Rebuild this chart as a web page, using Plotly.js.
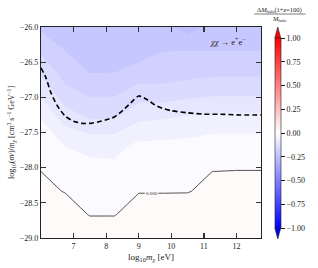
<!DOCTYPE html>
<html>
<head>
<meta charset="utf-8">
<script src="https://cdn.plot.ly/plotly-3.0.1.min.js"></script>
<style>html,body{margin:0;padding:0;background:#fff;}#chart{width:318px;height:268px;}</style>
</head>
<body>
<div id="chart"></div>
<script>
// log10 m_chi [eV] grid
const logMass = [6, 6.75, 7.5, 8.25, 9, 9.75, 10.5, 11.25, 12, 12.75];
// log10 (sigma v)/m_chi grid
const logSigmaV = [-29, -28.6667, -28.3333, -28, -27.6667, -27.3333, -27, -26.6667, -26.3333, -26];
// Delta M_halo / M_halo, one row per logSigmaV value
const deltaM = [
  [0.024, 0.02, 0.012, 0.012, 0.02, 0.02, 0.02, 0.024, 0.028, 0.028],
  [0.012, 0.008, -0.0008, -0.0008, 0.008, 0.008, 0.01, 0.014, 0.016, 0.016],
  [0.004, -0.0008, -0.02, -0.018, -0.0008, -0.0008, -0.0008, 0.004, 0.006, 0.006],
  [-0.0008, -0.02, -0.032, -0.0328, -0.02, -0.02, -0.02, -0.0008, -0.0008, -0.0008],
  [-0.02, -0.042, -0.05, -0.052, -0.034, -0.032, -0.03, -0.024, -0.024, -0.024],
  [-0.038, -0.092, -0.118, -0.116, -0.082, -0.076, -0.068, -0.06, -0.06, -0.06],
  [-0.0808, -0.14, -0.1592, -0.1592, -0.132, -0.132, -0.124, -0.118, -0.118, -0.118],
  [-0.124, -0.176, -0.1992, -0.1992, -0.18, -0.18, -0.172, -0.166, -0.166, -0.166],
  [-0.168, -0.2008, -0.22, -0.216, -0.22, -0.2008, -0.2008, -0.2008, -0.2008, -0.2008],
  [-0.208, -0.224, -0.236, -0.232, -0.236, -0.228, -0.256, -0.23, -0.224, -0.224]
];
// dashed reference curve
const dashX = [6.0, 6.15, 6.3, 6.5, 6.75, 7.0, 7.25, 7.5, 7.75, 8.0, 8.25, 8.5, 8.75, 9.0, 9.25, 9.5, 9.75, 10.0, 10.5, 11.0, 11.5, 12.0, 12.75];
const dashY = [-26.58, -26.72, -26.93, -27.12, -27.27, -27.34, -27.37, -27.37, -27.35, -27.32, -27.28, -27.19, -27.08, -26.98, -27.03, -27.11, -27.16, -27.19, -27.22, -27.24, -27.24, -27.25, -27.25];
const xTicks = [7, 8, 9, 10, 11, 12];
const yTicks = [-29, -28.5, -28, -27.5, -27, -26.5, -26];
const cbTicks = [-1, -0.75, -0.5, -0.25, 0, 0.25, 0.5, 0.75, 1];

const FONT = 'Liberation Serif, DejaVu Serif, serif';
const bwr = [[0, 'rgb(0,0,255)'], [0.5, 'rgb(255,255,255)'], [1, 'rgb(255,0,0)']];
// band colors (bwr sampled at band centres, levels every 0.04)
const bandColors = ['rgb(189,189,255)', 'rgb(199,199,255)', 'rgb(209,209,255)', 'rgb(219,219,255)',
  'rgb(230,230,255)', 'rgb(240,240,255)', 'rgb(250,250,255)', 'rgb(255,250,250)'];
const bandScale = bandColors.map((c, i) => [i / (bandColors.length - 1), c]);

const traces = [
  {
    type: 'contour', x: logMass, y: logSigmaV, z: deltaM,
    autocontour: false,
    contours: {start: -0.24, end: 0.0001, size: 0.04, coloring: 'fill', showlines: false},
    colorscale: bandScale, showscale: false,
    line: {width: 0, smoothing: 0}, hoverinfo: 'skip'
  },
  {
    type: 'contour', x: logMass, y: logSigmaV, z: deltaM,
    autocontour: false,
    contours: {start: 0, end: 0, size: 1, coloring: 'none', showlabels: true,
      labelfont: {family: FONT, size: 5, color: '#333'}, labelformat: '.3f'},
    line: {color: '#222', width: 0.8, smoothing: 0}, showscale: false, hoverinfo: 'skip'
  },
  {
    type: 'scatter', mode: 'lines', x: dashX, y: dashY,
    line: {color: 'black', width: 1.6, dash: '5px,3px', shape: 'spline', smoothing: 0.6},
    hoverinfo: 'skip', showlegend: false
  },
  {
    type: 'scatter', mode: 'markers', x: [6.5], y: [-26.5], hoverinfo: 'skip', showlegend: false,
    marker: {size: 1, opacity: 0, color: [0], colorscale: bwr, cmin: -1, cmax: 1, showscale: true,
      colorbar: {x: 1.063, xanchor: 'left', xpad: 0, y: 0.4976, yanchor: 'middle', ypad: 0,
        len: 190, lenmode: 'pixels', thickness: 6, outlinewidth: 0.6, outlinecolor: '#222',
        tickvals: cbTicks, tickformat: '.2f', ticks: 'outside', ticklen: 4, tickwidth: 1, tickcolor: '#222',
        tickfont: {family: FONT, size: 8, color: '#222'}}}
  }
];

const pxX = p => (p - 41) / 223;
const pxY = p => (238 - p) / 211;

const layout = {
  width: 318, height: 268,
  margin: {l: 41, r: 54, t: 27, b: 30},
  paper_bgcolor: 'white', plot_bgcolor: 'white',
  showlegend: false,
  font: {family: FONT, size: 8, color: '#222'},
  xaxis: {range: [6, 12.75], tickvals: xTicks, ticks: 'inside', ticklen: 5, tickwidth: 1.3, tickcolor: '#333',
    showline: true, linecolor: '#222', linewidth: 1.2, mirror: 'ticks', showgrid: false, zeroline: false,
    tickfont: {family: FONT, size: 8, color: '#222'},
    title: {text: 'log<sub>10</sub><i>m</i><sub><i>χ</i></sub> [eV]', font: {family: FONT, size: 9, color: '#222'}, standoff: 4}},
  yaxis: {range: [-29, -26], tickvals: yTicks, tickformat: '.1f', ticks: 'inside', ticklen: 5, tickwidth: 1.3, tickcolor: '#333',
    showline: true, linecolor: '#222', linewidth: 1.2, mirror: 'ticks', showgrid: false, zeroline: false,
    tickfont: {family: FONT, size: 8, color: '#222'},
    title: {text: 'log<sub>10</sub>(<i>σv</i>)/<i>m</i><sub><i>χ</i></sub> [cm<sup>3</sup> s<sup>−1</sup> GeV<sup>−1</sup>]',
      font: {family: FONT, size: 8, color: '#222'}, standoff: 3}},
  annotations: [
    {xref: 'paper', yref: 'paper', x: pxX(231), y: pxY(41), xanchor: 'center', yanchor: 'middle', showarrow: false,
      text: '<i>χχ</i> → e<sup>+</sup>e<sup>−</sup>', font: {family: FONT, size: 8.5, color: '#222'}},
    {xref: 'paper', yref: 'paper', x: pxX(283), y: pxY(9.5), xanchor: 'center', yanchor: 'middle', showarrow: false,
      text: 'Δ<i>M</i><sub>halo</sub>(1+<i>z</i>=100)', font: {family: FONT, size: 6.5, color: '#222'}},
    {xref: 'paper', yref: 'paper', x: pxX(283), y: pxY(19), xanchor: 'center', yanchor: 'middle', showarrow: false,
      text: '<i>M</i><sub>halo</sub>', font: {family: FONT, size: 6.5, color: '#222'}}
  ],
  shapes: [
    {type: 'line', xref: 'paper', yref: 'paper', x0: pxX(257), x1: pxX(309), y0: pxY(14), y1: pxY(14),
      line: {color: '#222', width: 0.6}},
    {type: 'path', xref: 'paper', yref: 'paper',
      path: `M ${pxX(278)} ${pxY(38)} L ${pxX(284)} ${pxY(38)} L ${pxX(281)} ${pxY(27)} Z`,
      fillcolor: 'rgb(255,0,0)', line: {color: '#222', width: 0.6}},
    {type: 'path', xref: 'paper', yref: 'paper',
      path: `M ${pxX(278)} ${pxY(228)} L ${pxX(284)} ${pxY(228)} L ${pxX(281)} ${pxY(239)} Z`,
      fillcolor: 'rgb(0,0,255)', line: {color: '#222', width: 0.6}}
  ]
};

Plotly.newPlot('chart', traces, layout, {staticPlot: true, displayModeBar: false});
</script>
</body>
</html>
